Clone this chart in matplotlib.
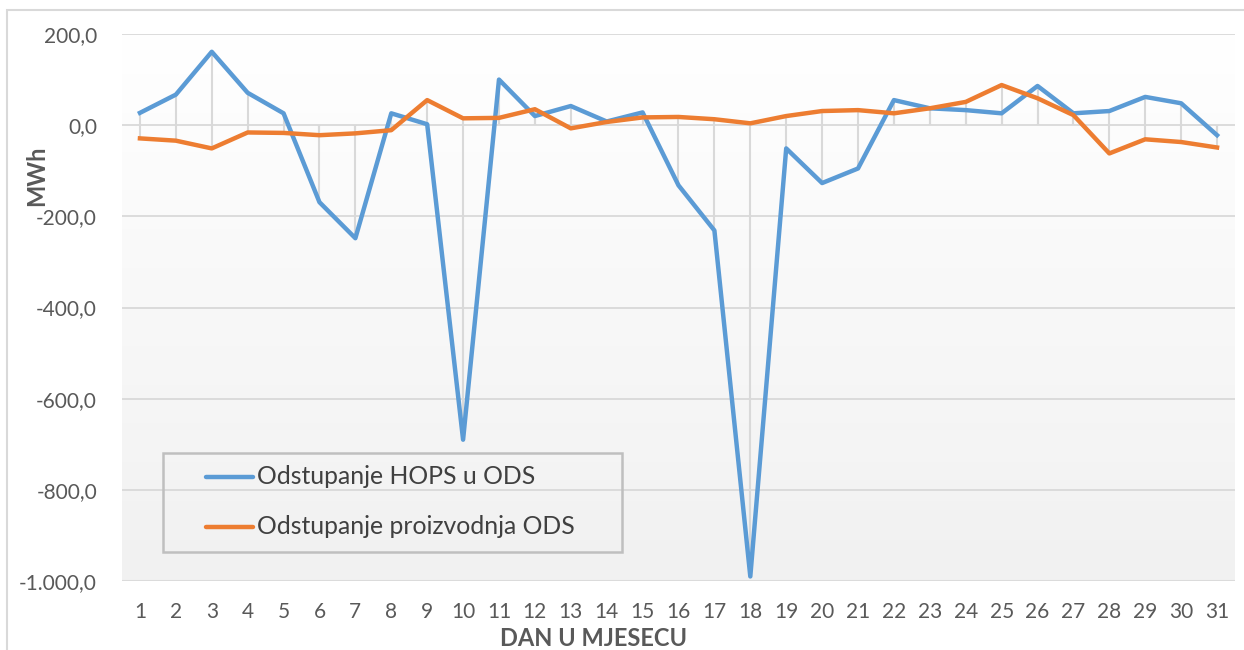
import numpy as np
import matplotlib.pyplot as plt
from matplotlib.ticker import FuncFormatter
from matplotlib.patches import Rectangle
from matplotlib.lines import Line2D

# days of the month
days = list(range(1, 32))

# Odstupanje HOPS u ODS (MWh)
hops_ods = [27, 67, 161, 71, 26, -169, -248, 26, 2, -690,
            100, 20, 42, 8, 28, -132, -231, -990, -51, -127,
            -95, 55, 37, 33, 26, 86, 26, 31, 62, 48, -22]

# Odstupanje proizvodnja ODS (MWh)
proizvodnja_ods = [-29, -34, -51, -16, -17, -22, -18, -11, 55, 15,
                   16, 35, -7, 7, 17, 18, 13, 4, 20, 31,
                   33, 26, 37, 51, 88, 59, 22, -62, -31, -37, -49]

series_names = ['Odstupanje HOPS u ODS', 'Odstupanje proizvodnja ODS']
series_colors = ['#5B9BD5', '#ED7D31']

y_ticks = [200, 0, -200, -400, -600, -800, -1000]

plt.rcParams['font.family'] = ['Lato', 'DejaVu Sans']

W, H = 1244, 650
fig = plt.figure(figsize=(W / 100, H / 100), dpi=100)
fig.patch.set_facecolor('white')


def fx(px):
    return px / W


def fy(py):
    return 1 - py / H


# outer chart border
fig.patches.append(Rectangle((fx(7), -0.05), 1.1, fy(10) + 0.05,
                             transform=fig.transFigure, fill=False,
                             edgecolor='#d9d9d9', linewidth=1.5))

ax = fig.add_axes([fx(122), fy(581), fx(1235 - 122), (581 - 34) / H])

# gradient plot area: white at top, light grey at bottom
grad = np.linspace(1.0, 0.945, 256).reshape(-1, 1)
ax.imshow(np.dstack([grad, grad, grad]), extent=[0, 1, 0, 1], transform=ax.transAxes,
          aspect='auto', zorder=0)

for y in y_ticks:
    ax.axhline(y, color='#d9d9d9', linewidth=1.3, zorder=1)

# drop lines from each point to zero
ax.vlines(days, 0, hops_ods, color='#d9d9d9', linewidth=1.5, zorder=2)
ax.vlines(days, 0, proizvodnja_ods, color='#d9d9d9', linewidth=1.5, zorder=2)

ax.plot(days, hops_ods, color=series_colors[0], linewidth=3.2,
        solid_joinstyle='round', zorder=4)
ax.plot(days, proizvodnja_ods, color=series_colors[1], linewidth=3.2,
        solid_joinstyle='round', zorder=5)

ax.set_xlim(0.5, 31.5)
ax.set_ylim(-1000, 200)
ax.set_xticks(days)
ax.set_xticklabels([str(d) for d in days])
ax.set_yticks(y_ticks)


def fmt(v, pos):
    s = f"{abs(v):,.1f}".replace(',', 'X').replace('.', ',').replace('X', '.')
    return ('-' if v < 0 else '') + s


ax.yaxis.set_major_formatter(FuncFormatter(fmt))
ax.tick_params(axis='both', length=0, labelsize=15, colors='#595959')
ax.tick_params(axis='x', pad=15)
ax.tick_params(axis='y', pad=18)
for s in ax.spines.values():
    s.set_visible(False)

# axis titles
fig.text(fx(37), fy(176), 'MWh', rotation=90, fontsize=17, fontweight='bold',
         color='#595959', ha='center', va='center')
fig.text(fx(594), fy(638), 'DAN U MJESECU', fontsize=17, fontweight='bold',
         color='#595959', ha='center', va='center')

# legend box
fig.patches.append(Rectangle((fx(163), fy(552)), fx(622 - 163), (552 - 453) / H,
                             transform=fig.transFigure, fill=False,
                             edgecolor='#bfbfbf', linewidth=1.8, zorder=6))
for name, color, row_y in zip(series_names, series_colors, [477, 527]):
    fig.add_artist(Line2D([fx(206), fx(253)], [fy(row_y), fy(row_y)], color=color,
                          linewidth=3.2, solid_capstyle='round', transform=fig.transFigure))
    fig.text(fx(257), fy(row_y), name, fontsize=17.8, color='#404040',
             ha='left', va='center')

fig.savefig('out.png', dpi=100)
